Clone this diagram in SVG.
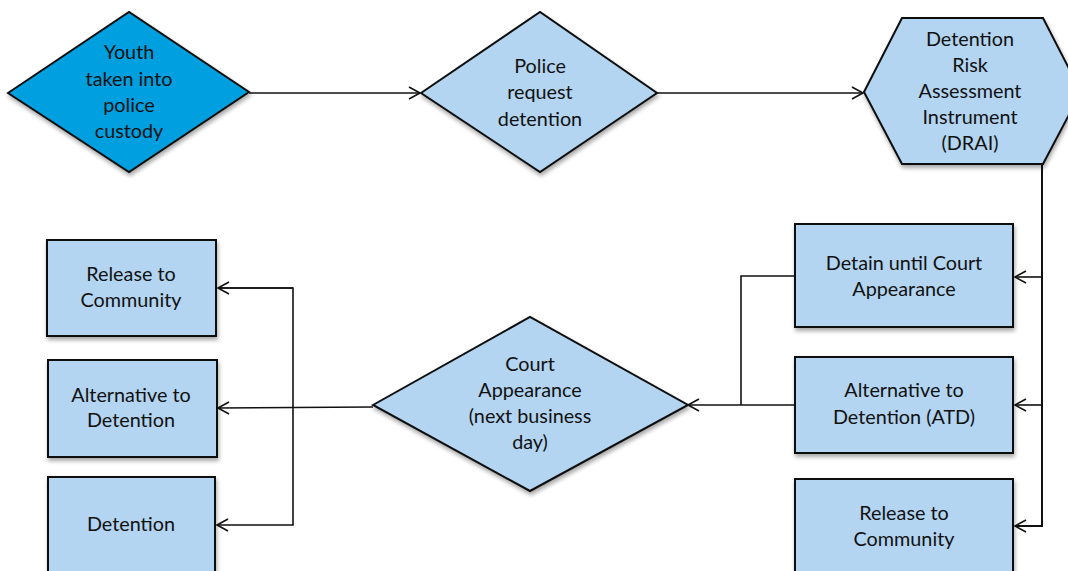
<svg xmlns="http://www.w3.org/2000/svg" width="1068" height="571" viewBox="0 0 1068 571">
<style>
.n{fill:#b3d5f1;stroke:#111;stroke-width:2}
.t{font-family:Lato,"Liberation Sans",sans-serif;font-size:19.8px;fill:#111;text-anchor:middle}
.c{fill:none;stroke:#111;stroke-width:1.6}
</style>
<defs>
<marker id="a" markerWidth="14" markerHeight="14" refX="12" refY="7" orient="auto" markerUnits="userSpaceOnUse">
<path d="M1,1 L12,7 L1,13" fill="none" stroke="#111" stroke-width="1.6"/>
</marker>
<filter id="s" x="-10%" y="-10%" width="125%" height="130%">
<feGaussianBlur in="SourceAlpha" stdDeviation="2"/>
<feOffset dx="1" dy="3"/>
<feComponentTransfer><feFuncA type="linear" slope="0.35"/></feComponentTransfer>
<feMerge><feMergeNode/><feMergeNode in="SourceGraphic"/></feMerge>
</filter>
</defs>
<rect width="1068" height="571" fill="#fff"/>
<g id="connectors">
<line class="c" x1="249" y1="93" x2="420" y2="93" marker-end="url(#a)"/>
<line class="c" x1="657" y1="93" x2="863" y2="93" marker-end="url(#a)"/>
<polyline class="c" points="1042,164 1042,526 1015,526" marker-end="url(#a)" style="stroke-width:2"/>
<line class="c" x1="1042" y1="277" x2="1015" y2="277" marker-end="url(#a)"/>
<line class="c" x1="1042" y1="405" x2="1015" y2="405" marker-end="url(#a)"/>
<polyline class="c" points="795,276 741,276 741,405"/>
<line class="c" x1="795" y1="405" x2="688" y2="405" marker-end="url(#a)"/>
<line class="c" x1="373" y1="407" x2="218" y2="408" marker-end="url(#a)"/>
<polyline class="c" points="218,288 293,288 293,525 217,525" marker-end="url(#a)"/>
<line class="c" x1="293" y1="288" x2="218" y2="288" marker-end="url(#a)"/>
</g>
<g id="n1">
<polygon points="8,93 129,12 249,92 129,172" fill="#009fdf" stroke="#111" stroke-width="2" filter="url(#s)"/>
<text class="t" x="129" y="59">Youth</text>
<text class="t" x="129" y="86">taken into</text>
<text class="t" x="129" y="112">police</text>
<text class="t" x="129" y="138">custody</text>
</g>
<g id="n2">
<polygon class="n" points="421,93 540,12 657,93 540,172" filter="url(#s)"/>
<text class="t" x="540" y="73">Police</text>
<text class="t" x="540" y="99">request</text>
<text class="t" x="540" y="126">detention</text>
</g>
<g id="n3">
<polygon class="n" points="864,92 902,18 1043,18 1081,92 1043,164 902,164" filter="url(#s)"/>
<text class="t" x="970" y="46">Detention</text>
<text class="t" x="970" y="72">Risk</text>
<text class="t" x="970" y="98">Assessment</text>
<text class="t" x="970" y="124">Instrument</text>
<text class="t" x="970" y="150">(DRAI)</text>
</g>
<g id="n4">
<rect class="n" x="795" y="224" width="218" height="103" filter="url(#s)"/>
<text class="t" x="904" y="270">Detain until Court</text>
<text class="t" x="904" y="296">Appearance</text>
</g>
<g id="n5">
<rect class="n" x="795" y="357" width="218" height="96" filter="url(#s)"/>
<text class="t" x="904" y="397">Alternative to</text>
<text class="t" x="904" y="424">Detention (ATD)</text>
</g>
<g id="n6">
<rect class="n" x="795" y="479" width="218" height="110" filter="url(#s)"/>
<text class="t" x="904" y="520">Release to</text>
<text class="t" x="904" y="546">Community</text>
</g>
<g id="n7">
<polygon class="n" points="373,405 530,317 688,405 530,491" filter="url(#s)"/>
<text class="t" x="530" y="371">Court</text>
<text class="t" x="530" y="397">Appearance</text>
<text class="t" x="530" y="423">(next business</text>
<text class="t" x="530" y="449">day)</text>
</g>
<g id="n8">
<rect class="n" x="47" y="240" width="169" height="96" filter="url(#s)"/>
<text class="t" x="131" y="281">Release to</text>
<text class="t" x="131" y="307">Community</text>
</g>
<g id="n9">
<rect class="n" x="48" y="360" width="169" height="97" filter="url(#s)"/>
<text class="t" x="131" y="402">Alternative to</text>
<text class="t" x="131" y="427">Detention</text>
</g>
<g id="n10">
<rect class="n" x="48" y="477" width="167" height="110" filter="url(#s)"/>
<text class="t" x="131" y="531">Detention</text>
</g>
</svg>
